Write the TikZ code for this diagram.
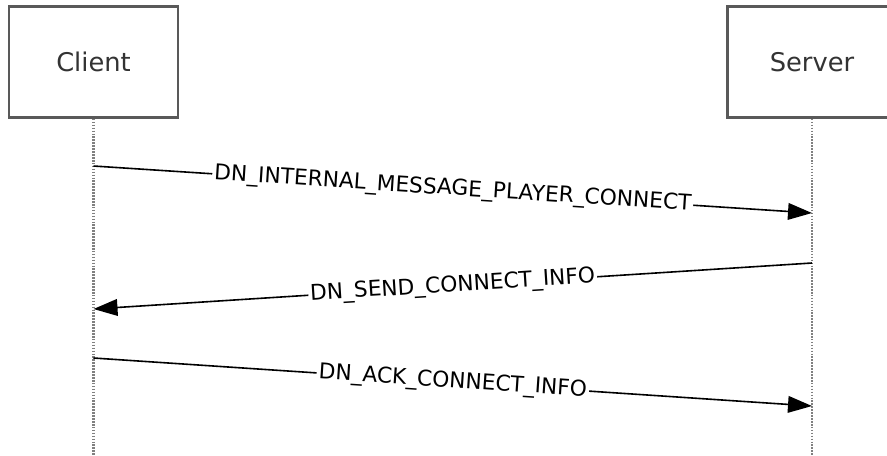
\documentclass[tikz,border=0pt]{standalone}
\usepackage{fontspec}
\setmainfont{DejaVu Sans}
\usepackage{tikz}
\usetikzlibrary{arrows.meta, positioning}

\tikzset{
  actor/.style={draw=black!65, line width=2pt, fill=white, text=black!80,
    minimum width=126.75pt, minimum height=83.25pt,
    font=\fontsize{19.3pt}{22pt}\selectfont},
  lifeline/.style={draw=black!50, line width=2pt, dash pattern=on 1.2pt off 1pt},
  msg/.style={line width=1.2pt, -{Triangle[length=18pt,width=12.5pt]}},
  msglabel/.style={midway, sloped, fill=white, inner sep=1.5pt,
    font=\fontsize{16.3pt}{18pt}\selectfont}
}

\begin{document}
\begin{tikzpicture}[x=0.75pt, y=-0.75pt]
  \useasboundingbox (0,0) rectangle (887,455);

  \node (client) [actor] at (93.5,62) {Client};
  \node (server) [actor] at (812,62) {Server};

  \coordinate (clientend) at (93.5,455);
  \coordinate (serverend) at (812,455);
  \draw[lifeline] (client.south) -- (clientend);
  \draw[lifeline] (server.south) -- (serverend);

  % message points on the lifelines
  \coordinate (c1) at (93.5,166);
  \coordinate (s1) at (812,213);
  \coordinate (s2) at (812,263);
  \coordinate (c2) at (93.5,309);
  \coordinate (c3) at (93.5,358);
  \coordinate (s3) at (812,406);

  \draw[msg] (c1) -- node[msglabel] {DN\_INTERNAL\_MESSAGE\_PLAYER\_CONNECT} (s1);
  \draw[msg] (s2) -- node[msglabel] {DN\_SEND\_CONNECT\_INFO} (c2);
  \draw[msg] (c3) -- node[msglabel] {DN\_ACK\_CONNECT\_INFO} (s3);
\end{tikzpicture}
\end{document}
